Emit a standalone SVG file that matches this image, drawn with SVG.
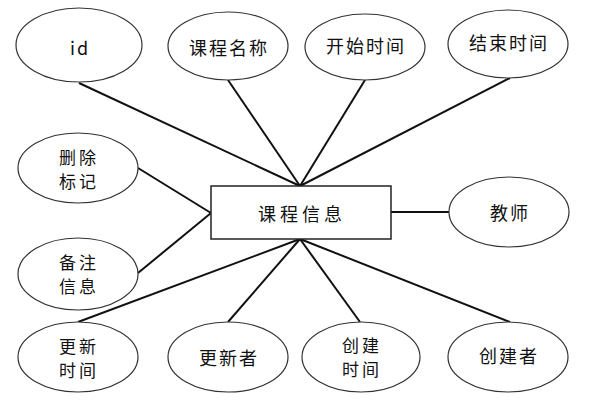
<svg xmlns="http://www.w3.org/2000/svg" width="593" height="400" viewBox="0 0 593 400">
<style>
.n{fill:#fff;stroke:#333;stroke-width:1.2}
.r{fill:#fff;stroke:#222;stroke-width:1.5}
.t{font-family:"Noto Sans CJK SC","Liberation Sans",sans-serif;font-size:18px;fill:#111;text-anchor:middle;dominant-baseline:central;letter-spacing:2px}
.t2{font-size:17px;letter-spacing:3px}
.c line{stroke:#111;stroke-width:2}
</style>
<rect width="593" height="400" fill="#fff"/>
<g class="c">
<line x1="79" y1="83" x2="300" y2="186"/>
<line x1="228" y1="80" x2="300" y2="186"/>
<line x1="365" y1="80" x2="300" y2="186"/>
<line x1="510" y1="78" x2="300" y2="186"/>
<line x1="138" y1="168" x2="211" y2="213"/>
<line x1="138" y1="273" x2="211" y2="213"/>
<line x1="391" y1="212" x2="449" y2="212"/>
<line x1="78" y1="322" x2="300" y2="239"/>
<line x1="228" y1="322" x2="300" y2="239"/>
<line x1="360" y1="322" x2="300" y2="239"/>
<line x1="510" y1="322" x2="300" y2="239"/>
</g>
<g id="main"><rect class="r" x="211" y="186" width="180" height="53"/><text class="t" x="302" y="213" style="letter-spacing:4px">课程信息</text></g>
<g id="id"><ellipse class="n" cx="79" cy="45" rx="63" ry="37"/><text class="t" x="80" y="47">id</text></g>
<g id="name"><ellipse class="n" cx="228" cy="46" rx="60" ry="34"/><text class="t" x="229" y="47">课程名称</text></g>
<g id="start"><ellipse class="n" cx="365" cy="47" rx="60" ry="33"/><text class="t" x="366" y="45">开始时间</text></g>
<g id="end"><ellipse class="n" cx="508" cy="44" rx="60" ry="34"/><text class="t" x="509" y="42">结束时间</text></g>
<g id="del"><ellipse class="n" cx="78" cy="168" rx="60" ry="35"/><text class="t t2"><tspan x="79" y="156">删除</tspan><tspan x="79" y="180">标记</tspan></text></g>
<g id="note"><ellipse class="n" cx="78" cy="274" rx="60" ry="36"/><text class="t t2"><tspan x="79" y="261">备注</tspan><tspan x="79" y="285">信息</tspan></text></g>
<g id="teacher"><ellipse class="n" cx="509" cy="212" rx="60" ry="35"/><text class="t" x="510" y="212">教师</text></g>
<g id="utime"><ellipse class="n" cx="78" cy="357" rx="60" ry="35"/><text class="t t2"><tspan x="79" y="345">更新</tspan><tspan x="79" y="369">时间</tspan></text></g>
<g id="updater"><ellipse class="n" cx="228" cy="357" rx="60" ry="35"/><text class="t" x="229" y="357">更新者</text></g>
<g id="ctime"><ellipse class="n" cx="361" cy="357" rx="59" ry="35"/><text class="t t2"><tspan x="362" y="344">创建</tspan><tspan x="362" y="368">时间</tspan></text></g>
<g id="creator"><ellipse class="n" cx="508" cy="357" rx="60" ry="35"/><text class="t" x="509" y="355">创建者</text></g>
</svg>
